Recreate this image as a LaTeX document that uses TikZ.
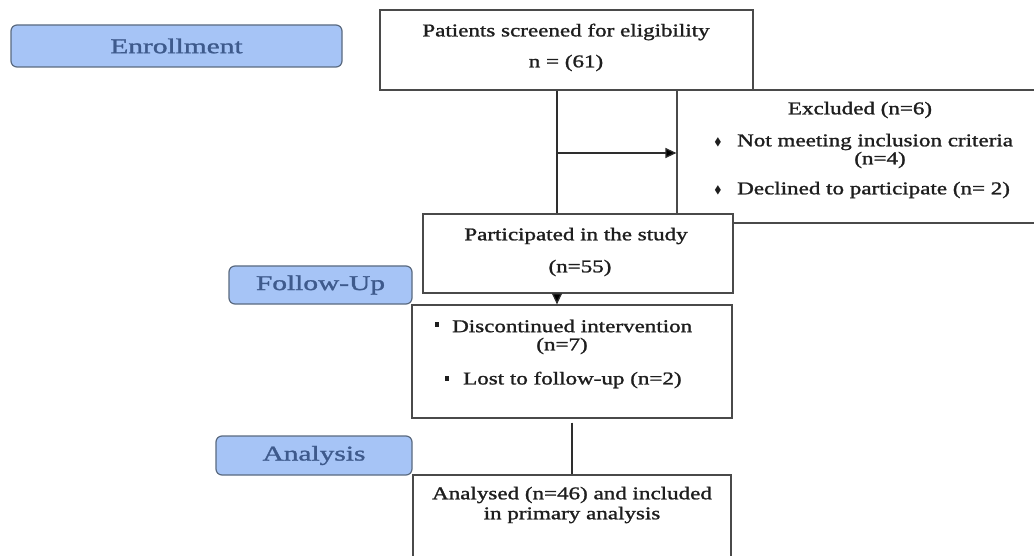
\documentclass[tikz,border=0pt]{standalone}
\usepackage{fontspec}
\setmainfont{Liberation Serif}
\newfontfamily\heavyserif{Liberation Serif}[FakeBold=1.2]
\usepackage{graphicx}
\usepackage{amssymb}
\usetikzlibrary{arrows.meta,calc}
\definecolor{lblfill}{HTML}{A6C4F6}
\definecolor{lbldraw}{HTML}{5A6A80}
\definecolor{lbltext}{HTML}{3E5A8C}
\definecolor{boxline}{HTML}{4A4A4A}
\definecolor{connline}{HTML}{2E2E2E}
\definecolor{txtcol}{HTML}{1E1E1E}
\newcommand{\wtxt}[1]{\scalebox{1.28}[1]{#1}}
\newcommand{\wlbl}[1]{\scalebox{1.4}[1]{#1}}
\newcommand{\dmd}{\raisebox{2.5pt}{\scalebox{0.6}{$\blacklozenge$}}}
\newcommand{\sqb}{\rule[3pt]{4.5pt}{4.5pt}}
\tikzset{
  lblbox/.style={draw=lbldraw, line width=1.2pt, fill=lblfill, rounded corners=6pt,
    inner sep=0pt, text=lbltext, font=\heavyserif\fontsize{21}{24}\selectfont},
  flowbox/.style={draw=boxline, line width=1.2pt, fill=white, inner sep=0pt},
  txt/.style={inner sep=0pt, text=txtcol, font=\heavyserif\fontsize{18}{20}\selectfont},
  conn/.style={draw=connline, line width=1.3pt},
  tip/.style={-{Triangle[length=11pt,width=10pt,fill=black]}}
}
\begin{document}
\begin{tikzpicture}[x=1pt,y=-1pt]
\useasboundingbox (0,0) rectangle (1034,556);
\clip (0,0) rectangle (1034,556);
\fill[white] (0,0) rectangle (1034,556);

% stage labels
\node[lblbox, minimum width=331pt, minimum height=42pt] (enroll) at (176.5,46) {\wlbl{Enrollment}};
\node[lblbox, minimum width=183pt, minimum height=38pt] (follow) at (320.5,285) {\wlbl{Follow-Up}};
\node[lblbox, minimum width=196pt, minimum height=39pt] (analysis) at (314,455.5) {\wlbl{Analysis}};

% flow boxes
\node[flowbox, minimum width=373pt, minimum height=80pt] (screened) at (566.5,50) {};
\node[flowbox, minimum width=363pt, minimum height=133pt] (excl) at (858.5,156.5) {};
\node[flowbox, minimum width=310pt, minimum height=79pt] (part) at (578,253.5) {};
\node[flowbox, minimum width=320pt, minimum height=113pt] (disc) at (572,361.5) {};
\node[flowbox, minimum width=318pt, minimum height=95pt] (anal) at (572,522.5) {};

% texts
\node[txt] (t1) at (566,32) {\wtxt{Patients screened for eligibility}};
\node[txt] (t2) at (566,63) {\wtxt{n = (61)}};

\node[txt] (e1) at (860,110) {\wtxt{Excluded (n=6)}};
\node[txt] (eb1) at (718,143) {\dmd};
\node[txt, anchor=west] (e2) at (737,142) {\wtxt{Not meeting inclusion criteria}};
\node[txt] (e3) at (880,160) {\wtxt{(n=4)}};
\node[txt] (eb2) at (718,191) {\dmd};
\node[txt, anchor=west] (e4) at (737,190) {\wtxt{Declined to participate (n= 2)}};

\node[txt] (p1) at (576,236) {\wtxt{Participated in the study}};
\node[txt] (p2) at (580,268) {\wtxt{(n=55)}};

\node[txt] (db1) at (437,326) {\sqb};
\node[txt, anchor=west] (d1) at (452,326) {\wtxt{Discontinued intervention}};
\node[txt] (d2) at (562,346) {\wtxt{(n=7)}};
\node[txt] (db2) at (447,380) {\sqb};
\node[txt, anchor=west] (d3) at (463,380) {\wtxt{Lost to follow-up (n=2)}};

\node[txt] (a1) at (572,495) {\wtxt{Analysed (n=46) and included}};
\node[txt] (a2) at (572,515) {\wtxt{in primary analysis}};

% connectors
\coordinate (spine) at (557,0);
\coordinate (branch) at (557,153);
\draw[conn] (screened.south -| spine) -- (part.north -| spine);
\draw[conn, tip] (branch) -- (branch -| excl.west);
\draw[conn, tip] (part.south -| spine) -- (disc.north -| spine);
\draw[conn, shorten <=4pt] (disc.south) -- (anal.north);
\end{tikzpicture}
\end{document}
